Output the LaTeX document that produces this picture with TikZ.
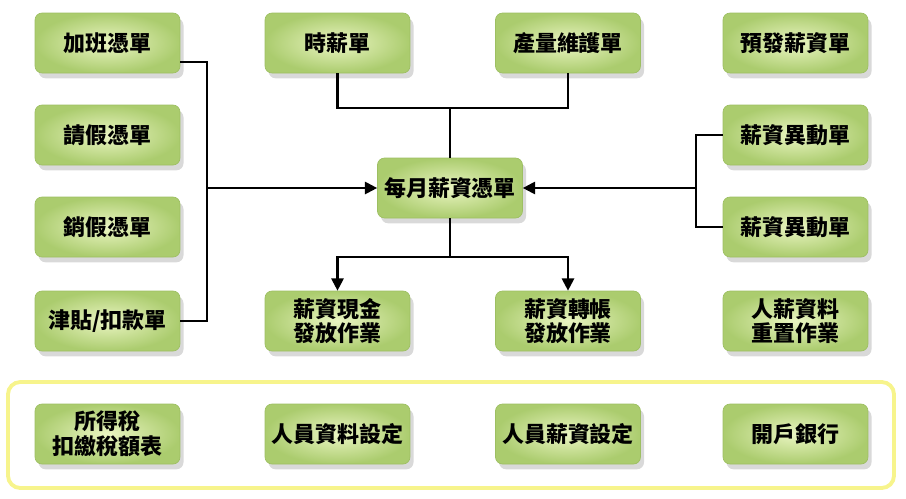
\documentclass[tikz,border=0pt]{standalone}
\usepackage{fontspec}
\newfontfamily\cjk{Noto Sans CJK TC}
\usetikzlibrary{arrows.meta,shadows,positioning}
\definecolor{boxin}{HTML}{EAF5C2}
\definecolor{boxout}{HTML}{ABCC6E}
\definecolor{boxline}{HTML}{9DBF62}
\definecolor{frameyellow}{HTML}{F7F48C}
\tikzset{
  card/.style={rectangle, rounded corners=4pt, draw=boxline, line width=0.4pt,
    inner color=boxin, outer color=boxout,
    minimum width=2.9cm, minimum height=1.2cm, align=center,
    font=\cjk\bfseries\fontsize{12.5}{14}\selectfont,
    drop shadow={opacity=0.3, shadow xshift=2pt, shadow yshift=-3pt}},
  wire/.style={line width=1.2pt, black},
  feed/.style={wire, -{Triangle[length=7pt,width=7pt]}}
}
\begin{document}
\begin{tikzpicture}[x=0.02cm, y=-0.02cm]
  \useasboundingbox (0,0) rectangle (906,498);

  % settings frame
  \draw[frameyellow, line width=2.2pt, rounded corners=7pt] (8,382) rectangle (894,488);

  % column 1
  \node[card] (ot)   at (107.5,43)  {加班憑單};
  \node[card] (lv)   at (107.5,135) {請假憑單};
  \node[card] (lvx)  at (107.5,227) {銷假憑單};
  \node[card] (alw)  at (107.5,321) {津貼/扣款單};

  % column 2
  \node[card] (hr)   at (337.5,43)  {時薪單};
  \node[card] (cash) at (337.5,321) {薪資現金\\發放作業};

  % column 3
  \node[card] (prod) at (568,43)    {產量維護單};
  \node[card] (bank) at (568,321)   {薪資轉帳\\發放作業};

  % column 4
  \node[card] (pre)  at (795.5,43)  {預發薪資單};
  \node[card] (chg1) at (795.5,135) {薪資異動單};
  \node[card] (chg2) at (795.5,227) {薪資異動單};
  \node[card] (rst)  at (795.5,321) {人薪資料\\重置作業};

  % monthly slip
  \node[card] (mon)  at (450,188)   {每月薪資憑單};

  % settings
  \node[card] (tax)  at (107.5,434) {所得稅\\扣繳稅額表};
  \node[card] (emp)  at (337.5,434) {人員資料設定};
  \node[card] (sal)  at (568,434)   {人員薪資設定};
  \node[card] (acct) at (795.5,434) {開戶銀行};

  % left bus
  \coordinate (lb) at (207,188);
  \draw[wire] ([yshift=-0.38cm]ot.east) -| (lb |- alw.east) -- (alw.east);
  \draw[feed] (lb) -- (mon.west);

  % top bus
  \coordinate (tb) at (450,108);
  \draw[wire] (hr.south) |- (tb) -| (prod.south);
  \draw[wire] (tb) -- (mon.north);

  % right bus
  \coordinate (rb) at (696,188);
  \draw[wire] (chg1.west) -| (rb |- chg2.west) -- (chg2.west);
  \draw[feed] (rb) -- (mon.east);

  % bottom bus
  \coordinate (bb) at (450,257);
  \draw[wire] (mon.south) -- (bb);
  \draw[feed] (bb) -| (cash.north);
  \draw[feed] (bb) -| (bank.north);
\end{tikzpicture}
\end{document}
